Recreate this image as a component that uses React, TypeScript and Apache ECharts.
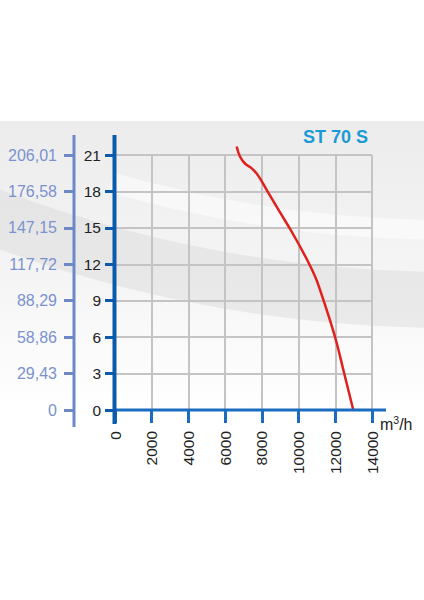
import React, { useEffect, useRef } from "react";
import * as echarts from "echarts";

// Data
const flowRate = [6630, 6800, 7080, 7450, 7800, 8350, 8900, 9620, 10350, 10900, 11170, 11710, 12080, 12440, 12980];
const pressureMm = [21.7, 20.9, 20.3, 19.9, 19.3, 17.9, 16.5, 14.7, 12.7, 11.0, 9.9, 7.4, 5.5, 3.3, 0];
const pressurePaLabels = ["0", "29,43", "58,86", "88,29", "117,72", "147,15", "176,58", "206,01"];
const title = "ST 70 S";

const GRID_LEFT = 115;
const GRID_TOP = 155;
const GRID_RIGHT_X = 372;
const GRID_BOTTOM_Y = 410;
const W = 424;
const H = 600;

export default function App() {
  const ref = useRef<HTMLDivElement>(null);
  useEffect(() => {
    if (!ref.current) return;
    const chart = echarts.init(ref.current, undefined, { renderer: "svg" });
    const mainBlue = "#0b5aab";
    const xBlue = "#1a6cbf";
    const secBlue = "#6c88c9";
    const font = "Liberation Sans, Arial, sans-serif";
    const deg = Math.PI / 180;
    const option: any = {
      animation: false,
      backgroundColor: "#ffffff",
      grid: {
        left: GRID_LEFT,
        top: GRID_TOP,
        right: W - GRID_RIGHT_X,
        bottom: H - GRID_BOTTOM_Y,
        containLabel: false,
      },
      xAxis: {
        type: "value",
        min: 0,
        max: 14000,
        interval: 2000,
        axisLine: { show: false },
        axisTick: { show: true, inside: false, length: 13, lineStyle: { color: xBlue, width: 3 } },
        axisLabel: {
          rotate: 90,
          margin: 21,
          color: "#222",
          fontSize: 15.5,
          fontFamily: font,
          showMinLabel: true,
          showMaxLabel: true,
          formatter: (v: number) => String(v),
        },
        splitLine: { show: true, lineStyle: { color: "#c4c4c4", width: 2 } },
      },
      yAxis: [
        {
          type: "value",
          min: 0,
          max: 21,
          interval: 3,
          position: "left",
          axisLine: { show: false },
          axisTick: { show: true, length: 10, lineStyle: { color: mainBlue, width: 3 } },
          axisLabel: { margin: 14, color: "#222", fontSize: 15.5, fontFamily: font },
          splitLine: { show: true, lineStyle: { color: "#c4c4c4", width: 2 } },
        },
        {
          type: "value",
          min: 0,
          max: 21,
          interval: 3,
          position: "left",
          offset: 41,
          axisLine: { show: false },
          axisTick: { show: true, length: 10, lineStyle: { color: secBlue, width: 3 } },
          axisLabel: {
            margin: 17,
            color: "#7a92cf",
            fontSize: 16,
            fontFamily: font,
            formatter: (v: number) => pressurePaLabels[Math.round(v / 3)] ?? "",
          },
          splitLine: { show: false },
        },
      ],
      series: [
        {
          type: "line",
          data: flowRate.map((x, i) => [x, pressureMm[i]]),
          smooth: 0.4,
          showSymbol: false,
          clip: false,
          lineStyle: { color: "#e0201c", width: 2.5 },
          z: 5,
        },
      ],
      graphic: [
        {
          type: "rect",
          z: -10,
          silent: true,
          shape: { x: 0, y: 121, width: W, height: 290 },
          style: {
            fill: new echarts.graphic.LinearGradient(0, 0, 0, 1, [
              { offset: 0, color: "#ececec" },
              { offset: 0.55, color: "#f5f5f5" },
              { offset: 1, color: "#ffffff" },
            ]),
          },
        },
        {
          type: "arc",
          z: -9,
          silent: true,
          shape: { cx: 450, cy: -1000, r: 1300, startAngle: 88 * deg, endAngle: 111 * deg },
          style: { stroke: "rgba(205,205,205,0.32)", lineWidth: 56, fill: null },
        },
        {
          type: "arc",
          z: -9,
          silent: true,
          shape: { cx: 450, cy: -1000, r: 1230, startAngle: 88 * deg, endAngle: 106 * deg },
          style: { stroke: "rgba(255,255,255,0.5)", lineWidth: 20, fill: null },
        },
        // secondary axis line
        {
          type: "line",
          z: 10,
          silent: true,
          shape: { x1: GRID_LEFT - 41, y1: 135, x2: GRID_LEFT - 41, y2: 427 },
          style: { stroke: secBlue, lineWidth: 3 },
        },
        // x axis line
        {
          type: "line",
          z: 10,
          silent: true,
          shape: { x1: GRID_LEFT, y1: GRID_BOTTOM_Y, x2: 386, y2: GRID_BOTTOM_Y },
          style: { stroke: xBlue, lineWidth: 3 },
        },
        // main y axis line
        {
          type: "line",
          z: 11,
          silent: true,
          shape: { x1: GRID_LEFT - 0.5, y1: 135, x2: GRID_LEFT - 0.5, y2: 424 },
          style: { stroke: mainBlue, lineWidth: 4 },
        },
        {
          type: "text",
          z: 10,
          x: 368,
          y: 137,
          style: {
            text: title,
            fill: "#1b9ad6",
            font: `bold 18px ${font}`,
            align: "right",
            verticalAlign: "middle",
          },
        },
        {
          type: "text",
          z: 10,
          x: 380,
          y: 424,
          style: {
            text: "{a|m}{b|3}{a|/h}",
            verticalAlign: "middle",
            rich: {
              a: { fontSize: 16, fontFamily: font, fill: "#222", color: "#222" },
              b: { fontSize: 10.5, fontFamily: font, fill: "#222", color: "#222", padding: [0, 0, 9, 0] },
            },
          },
        },
      ],
    };
    chart.setOption(option);
    return () => chart.dispose();
  }, []);
  return (
    <div
      ref={ref}
      style={{ position: "absolute", left: 0, top: 0, width: W, height: H }}
    />
  );
}
